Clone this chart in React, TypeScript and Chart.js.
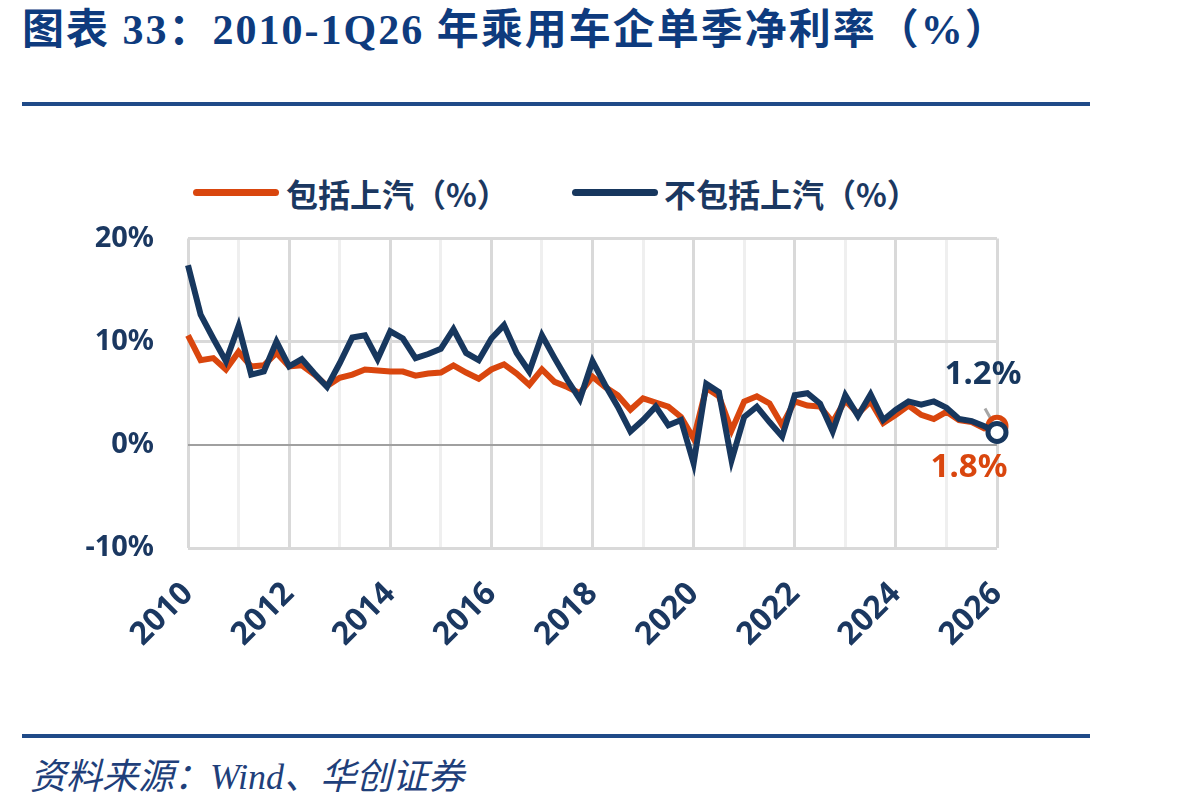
import React, { useEffect, useRef } from "react";
import { Chart, registerables } from "chart.js";

Chart.register(...registerables);

const startYear = 2010;
const quarterLabels: string[] = [];
for (let y = 2010; y <= 2026; y++) {
  for (let q = 1; q <= 4; q++) {
    if (y === 2026 && q > 1) break;
    quarterLabels.push(`${q}Q${String(y).slice(2)}`);
  }
}

// 包括上汽（%）
const inclSAIC: number[] = [
  10.6, 8.2, 8.4, 7.3, 9.0, 7.6, 7.7, 8.9, 7.6, 7.7, 6.8, 5.7, 6.5, 6.8, 7.3, 7.2,
  7.1, 7.1, 6.7, 6.9, 7.0, 7.7, 7.0, 6.4, 7.3, 7.8, 6.9, 5.8, 7.3, 6.1, 5.6, 5.0,
  6.6, 5.6, 4.8, 3.4, 4.5, 4.1, 3.7, 2.7, 0.6, 5.5, 4.7, 1.4, 4.2, 4.7, 4.0, 1.9,
  4.2, 3.8, 3.7, 2.2, 4.3, 3.0, 4.2, 2.1, 2.9, 3.8, 2.9, 2.5, 3.2, 2.4, 2.2, 1.6,
  1.8,
];

// 不包括上汽（%）
const exclSAIC: number[] = [
  17.4, 12.6, 10.3, 8.1, 11.5, 6.8, 7.1, 10.0, 7.6, 8.3, 6.9, 5.6, 7.9, 10.4, 10.6, 8.3,
  11.0, 10.3, 8.4, 8.8, 9.3, 11.2, 8.9, 8.2, 10.3, 11.6, 8.9, 7.1, 10.6, 8.4, 6.3, 4.4,
  8.1, 5.8, 3.7, 1.3, 2.4, 3.7, 1.9, 2.4, -1.8, 5.9, 5.1, -1.5, 2.7, 3.7, 2.2, 0.8,
  4.8, 5.0, 4.0, 1.3, 4.8, 2.8, 4.9, 2.4, 3.4, 4.2, 3.9, 4.2, 3.6, 2.5, 2.3, 1.8,
  1.2,
];

const yTicks: number[] = [-10, 0, 10, 20];

const NAVY = "#17375e";
const ORANGE = "#d9460e";
const TEXT_NAVY = "#1b3861";

const lastLabels = {
  id: "lastLabels",
  afterDatasetsDraw(chart: any) {
    const ctx = chart.ctx;
    const navyMeta = chart.getDatasetMeta(1);
    const orangeMeta = chart.getDatasetMeta(0);
    const pn = navyMeta.data[navyMeta.data.length - 1];
    const po = orangeMeta.data[orangeMeta.data.length - 1];
    ctx.save();
    ctx.font = "bold 33px 'Noto Sans', sans-serif";
    ctx.textAlign = "center";
    ctx.textBaseline = "middle";
    ctx.fillStyle = NAVY;
    ctx.fillText(exclSAIC[exclSAIC.length - 1].toFixed(1) + "%", pn.x - 14, pn.y - 58);
    ctx.fillStyle = ORANGE;
    ctx.fillText(inclSAIC[inclSAIC.length - 1].toFixed(1) + "%", po.x - 28, po.y + 41);
    ctx.restore();
  },
  beforeDatasetsDraw(chart: any) {
    const ctx = chart.ctx;
    const navyMeta = chart.getDatasetMeta(1);
    const pn = navyMeta.data[navyMeta.data.length - 1];
    ctx.save();
    ctx.strokeStyle = "#a6a6a6";
    ctx.lineWidth = 3;
    ctx.beginPath();
    ctx.moveTo(pn.x - 12, pn.y - 24);
    ctx.lineTo(pn.x - 3, pn.y - 8);
    ctx.stroke();
    ctx.restore();
  },
};

function ChartView() {
  const ref = useRef<HTMLCanvasElement | null>(null);
  useEffect(() => {
    if (!ref.current) return;
    const n = quarterLabels.length;
    const radii = (i: number) => (i === n - 1 ? 9 : 0);
    const chart = new Chart(ref.current, {
      type: "line",
      data: {
        labels: quarterLabels,
        datasets: [
          {
            label: "包括上汽（%）",
            data: inclSAIC,
            borderColor: ORANGE,
            backgroundColor: "#ffffff",
            borderWidth: 6,
            pointRadius: quarterLabels.map((_, i) => radii(i)),
            pointBorderWidth: 5,
            pointBorderColor: ORANGE,
            pointBackgroundColor: "#ffffff",
            pointHoverRadius: 0,
            tension: 0,
            order: 1,
            clip: false as any,
          },
          {
            label: "不包括上汽（%）",
            data: exclSAIC,
            borderColor: NAVY,
            backgroundColor: "#ffffff",
            borderWidth: 6,
            pointRadius: quarterLabels.map((_, i) => radii(i)),
            pointBorderWidth: 5,
            pointBorderColor: NAVY,
            pointBackgroundColor: "#ffffff",
            pointHoverRadius: 0,
            tension: 0,
            order: 0,
            clip: false as any,
          },
        ],
      },
      options: {
        responsive: false,
        animation: false,
        events: [],
        layout: { padding: { left: 0, right: 103, top: 24, bottom: 0 } },
        plugins: {
          legend: { display: false },
          tooltip: { enabled: false },
          title: { display: false },
        },
        scales: {
          x: {
            type: "category",
            offset: false,
            border: { display: false },
            grid: {
              drawTicks: false,
              color: (c: any) => {
                const i = c.index;
                if (i % 4 !== 0) return "rgba(0,0,0,0)";
                const yr = startYear + i / 4;
                return yr % 2 === 0 ? "#d9d9d9" : "#efefef";
              },
              lineWidth: 3,
            },
            ticks: {
              autoSkip: false,
              minRotation: 45,
              maxRotation: 45,
              padding: 27,
              color: TEXT_NAVY,
              font: { family: "'Noto Sans', sans-serif", size: 32, weight: "bold" },
              callback: (_v: any, i: number) => {
                if (i % 4 !== 0) return "";
                const yr = startYear + i / 4;
                return yr % 2 === 0 ? String(yr) : "";
              },
            },
            afterFit: (s: any) => {
              s.height = 152;
            },
          },
          y: {
            min: -10,
            max: 20,
            border: { display: false },
            afterBuildTicks: (s: any) => {
              s.ticks = yTicks.map((v) => ({ value: v }));
            },
            grid: {
              drawTicks: false,
              color: (c: any) => (c.tick && c.tick.value === 0 ? "#a0a0a0" : "#d9d9d9"),
              lineWidth: (c: any) => (c.tick && c.tick.value === 0 ? 2 : 3),
            },
            ticks: {
              padding: 34,
              color: TEXT_NAVY,
              font: { family: "'Noto Sans', sans-serif", size: 29, weight: "bold" },
              callback: (v: any) => v + "%",
            },
            afterFit: (s: any) => {
              s.width = 188;
            },
          },
        },
      },
      plugins: [lastLabels],
    });
    return () => chart.destroy();
  }, []);
  return (
    <canvas
      ref={ref}
      width={1100}
      height={513}
      style={{ position: "absolute", left: 0, top: 187, width: 1100, height: 513 }}
    />
  );
}

export default function App() {
  const legendText: React.CSSProperties = {
    position: "absolute",
    top: 170,
    fontFamily: "'Noto Sans CJK SC', sans-serif",
    fontWeight: 700,
    fontSize: 32,
    lineHeight: "46px",
    color: TEXT_NAVY,
    whiteSpace: "nowrap",
  };
  const legendLine = (left: number, color: string): React.CSSProperties => ({
    position: "absolute",
    left,
    top: 189,
    width: 86,
    height: 7,
    borderRadius: 4,
    background: color,
  });
  return (
    <div
      style={{
        position: "fixed",
        left: 0,
        top: 0,
        width: 1198,
        height: 812,
        background: "#ffffff",
        overflow: "hidden",
      }}
    >
      <div
        style={{
          position: "absolute",
          left: 22,
          top: 2,
          fontFamily: "'Liberation Serif', 'Noto Sans CJK SC', serif",
          fontWeight: 700,
          fontSize: 42,
          letterSpacing: 2,
          lineHeight: "56px",
          color: "#0e3b7e",
          whiteSpace: "nowrap",
        }}
      >
        图表 33：2010-1Q26 年乘用车企单季净利率（%）
      </div>
      <div
        style={{
          position: "absolute",
          left: 22,
          top: 102,
          width: 1068,
          height: 4,
          background: "#1f4a88",
        }}
      />
      <div style={legendLine(193, ORANGE)} />
      <div style={{ ...legendText, left: 286 }}>包括上汽（%）</div>
      <div style={legendLine(572, NAVY)} />
      <div style={{ ...legendText, left: 664 }}>不包括上汽（%）</div>
      <ChartView />
      <div
        style={{
          position: "absolute",
          left: 22,
          top: 734,
          width: 1068,
          height: 4,
          background: "#1f4a88",
        }}
      />
      <div
        style={{
          position: "absolute",
          left: 30,
          top: 752,
          fontFamily: "'Liberation Serif', 'Noto Sans CJK SC', serif",
          fontStyle: "italic",
          fontSize: 36,
          lineHeight: "50px",
          color: "#1f3f7a",
          whiteSpace: "nowrap",
        }}
      >
        资料来源：Wind、华创证券
      </div>
    </div>
  );
}
